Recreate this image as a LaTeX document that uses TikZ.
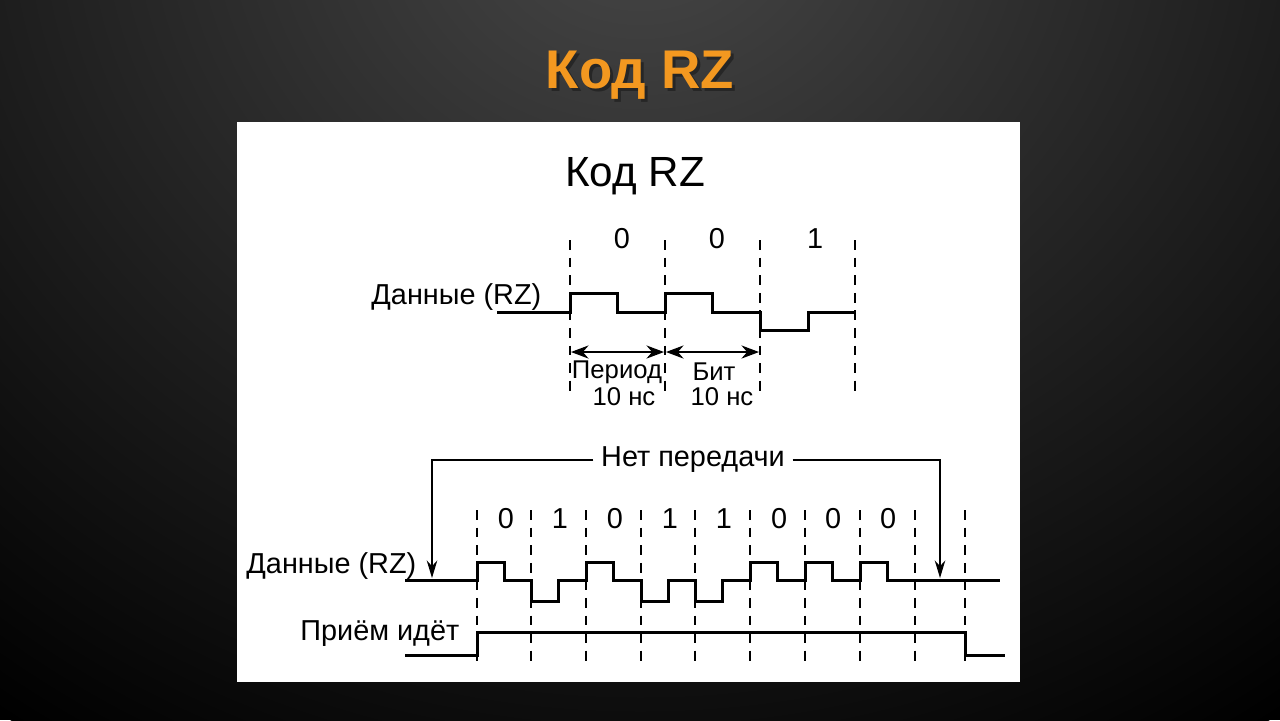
\documentclass[tikz,border=0pt]{standalone}
\usepackage{fontspec}
\setmainfont{Liberation Sans}
\usetikzlibrary{arrows.meta}
\begin{document}
\begin{tikzpicture}[x=0.01cm,y=-0.01cm,
  wave/.style={line width=0.85pt},
  grid/.style={line width=0.35pt,dash pattern=on 2.8pt off 2.2pt},
  lbl/.style={font=\fontsize{8.2}{9}\selectfont,inner sep=0pt},
  slbl/.style={font=\fontsize{7.3}{8}\selectfont,inner sep=0pt},
  thin/.style={line width=0.35pt}]
\useasboundingbox (0,0) rectangle (1280,720);
\fill[black] (0,0) rectangle (1280,720);
\shade[inner color=black!72, outer color=black] (640,-100) ellipse (1100 and 1000);
\node[font=\bfseries\fontsize{15.5}{18}\selectfont,text=black!85] (t0s) at (643,78) {Код RZ};
\node[font=\bfseries\fontsize{15.5}{18}\selectfont,text={rgb,255:red,243;green,152;blue,32}] (t0) at (640,75) {Код RZ};
\fill[white] (237,122) rectangle (1020,682);
\node[font=\fontsize{12}{14}\selectfont] (t1) at (635,176) {Код RZ};
% top
\foreach \x in {570,665,760,855} \draw[grid] (\x,240) -- (\x,398);
\foreach \x/\b [count=\i] in {622/0,717/0,815/1} \node[lbl] (tb\i) at (\x,239) {\b};
\node[lbl,anchor=east] (d1) at (542,297) {Данные (RZ)};
\draw[wave] (497,312) -- (570,312) -- (570,293) -- (617,293) -- (617,312) -- (665,312) -- (665,293) -- (712,293) -- (712,312) -- (760,312) -- (760,330) -- (808,330) -- (808,312) -- (855,312);
\draw[thin,{Stealth[length=5pt]}-{Stealth[length=5pt]}] (571,352) -- (664,352);
\draw[thin,{Stealth[length=5pt]}-{Stealth[length=5pt]}] (666,352) -- (759,352);
\node[slbl] (p1) at (617,372) {Период};
\node[slbl] (p2) at (624,397) {10 нс};
\node[slbl] (b1) at (714,372) {Бит};
\node[slbl] (b2) at (722,397) {10 нс};
% bottom
\foreach \x in {477,531,586,641,695,750,805,860,915,965} \draw[grid] (\x,510) -- (\x,665);
\foreach \x/\b [count=\i] in {506/0,560/1,615/0,670/1,724/1,779/0,833/0,888/0} \node[lbl] (bb\i) at (\x,519) {\b};
\node[lbl,inner xsep=2pt] (np) at (693,460) {Нет передачи};
\draw[thin,-{Stealth[length=5pt,width=3pt]}] (np.west) -- (432,460) -- (432,578);
\draw[thin,-{Stealth[length=5pt,width=3pt]}] (np.east) -- (940,460) -- (940,578);
\node[lbl,anchor=east] (d2) at (417,566) {Данные (RZ)};
\node[lbl,anchor=east] (pr) at (460,634) {Приём идёт};
\draw[wave] (405,580) -- (477,580) -- (477,562) -- (504,562) -- (504,580) -- (531,580) -- (531,601) -- (558,601) -- (558,580) -- (586,580) -- (586,562) -- (613,562) -- (613,580) -- (641,580) -- (641,601) -- (668,601) -- (668,580) -- (695,580) -- (695,601) -- (722,601) -- (722,580) -- (750,580) -- (750,562) -- (777,562) -- (777,580) -- (805,580) -- (805,562) -- (832,562) -- (832,580) -- (860,580) -- (860,562) -- (887,562) -- (887,580) -- (1000,580);
\draw[wave] (405,655) -- (477,655) -- (477,632) -- (965,632) -- (965,655) -- (1005,655);
\end{tikzpicture}
\end{document}
